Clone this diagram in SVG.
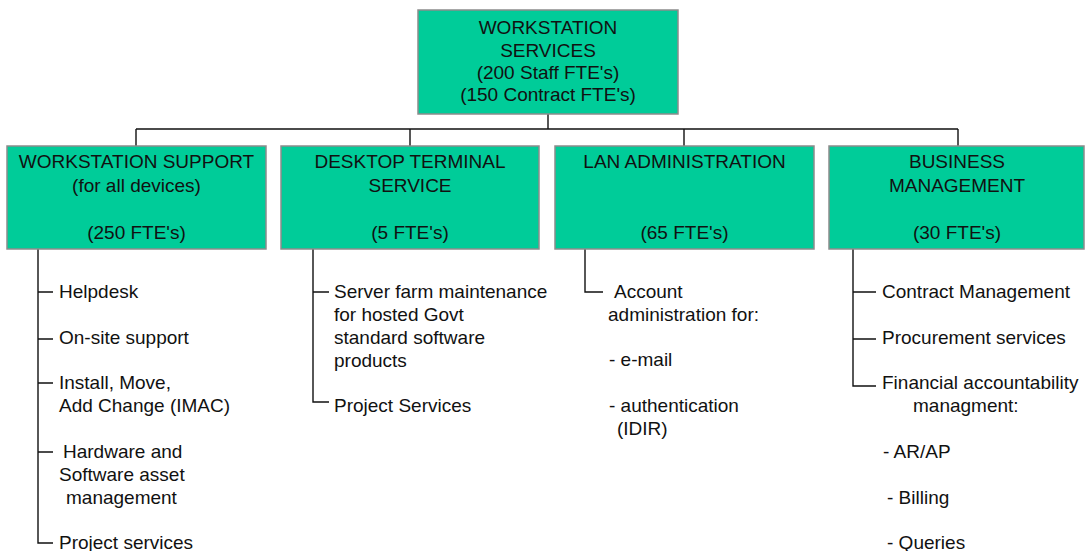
<svg xmlns="http://www.w3.org/2000/svg" width="1086" height="551" viewBox="0 0 1086 551">
<style>
.box{fill:#00CC99;stroke:#8c8c8c;stroke-width:1.5}
.t{font-family:"Liberation Sans",Arial,sans-serif;font-size:19px;fill:#111}
.c{text-anchor:middle}
.ln{fill:none;stroke:#111;stroke-width:1.4}
</style>
<rect width="1086" height="551" fill="#fff"/>
<g id="connectors" class="ln">
<path d="M548 114V129M136 129H958M136 129V146M410 129V146M684 129V146M958 129V146"/>
<path d="M38 249V543H53M38 292H53M38 339H53M38 383H53M38 452H53"/>
<path d="M313 249V402H329M313 292H329"/>
<path d="M585 249V292H603"/>
<path d="M853 249V386H876M853 292H876M853 339H876"/>
</g>
<g id="root">
<rect class="box" x="418" y="10" width="260" height="104"/>
<text class="t c" x="548" y="34">WORKSTATION</text>
<text class="t c" x="548" y="56.5">SERVICES</text>
<text class="t c" x="548" y="79">(200 Staff FTE's)</text>
<text class="t c" x="548" y="101">(150 Contract FTE's)</text>
</g>
<g id="workstation-support">
<rect class="box" x="7" y="146" width="259" height="103"/>
<text class="t c" x="136.5" y="168">WORKSTATION SUPPORT</text>
<text class="t c" x="136.5" y="191.5">(for all devices)</text>
<text class="t c" x="136.5" y="239">(250 FTE's)</text>
</g>
<g id="desktop-terminal">
<rect class="box" x="281" y="146" width="258" height="103"/>
<text class="t c" x="410" y="168">DESKTOP TERMINAL</text>
<text class="t c" x="410" y="191.5">SERVICE</text>
<text class="t c" x="410" y="239">(5 FTE's)</text>
</g>
<g id="lan-admin">
<rect class="box" x="555" y="146" width="259" height="103"/>
<text class="t c" x="684.5" y="168">LAN ADMINISTRATION</text>
<text class="t c" x="684.5" y="239">(65 FTE's)</text>
</g>
<g id="business-management">
<rect class="box" x="829" y="146" width="255" height="103"/>
<text class="t c" x="957" y="168">BUSINESS</text>
<text class="t c" x="957" y="191.5">MANAGEMENT</text>
<text class="t c" x="957" y="239">(30 FTE's)</text>
</g>
<g id="ws-items">
<text class="t" x="59" y="298">Helpdesk</text>
<text class="t" x="59" y="344">On-site support</text>
<text class="t" x="59" y="389">Install, Move,</text>
<text class="t" x="59" y="412">Add Change (IMAC)</text>
<text class="t" x="63" y="458">Hardware and</text>
<text class="t" x="59" y="481">Software asset</text>
<text class="t" x="66" y="504">management</text>
<text class="t" x="59" y="549">Project services</text>
</g>
<g id="dt-items">
<text class="t" x="334" y="298">Server farm maintenance</text>
<text class="t" x="334" y="321">for hosted Govt</text>
<text class="t" x="334" y="344">standard software</text>
<text class="t" x="334" y="367">products</text>
<text class="t" x="334" y="412">Project Services</text>
</g>
<g id="lan-items">
<text class="t" x="614" y="298">Account</text>
<text class="t" x="608" y="321">administration for:</text>
<text class="t" x="609" y="366">- e-mail</text>
<text class="t" x="609" y="412">- authentication</text>
<text class="t" x="617" y="435">(IDIR)</text>
</g>
<g id="bm-items">
<text class="t" x="882" y="298">Contract Management</text>
<text class="t" x="882" y="344">Procurement services</text>
<text class="t" x="882" y="389">Financial accountability</text>
<text class="t" x="913" y="412">managment:</text>
<text class="t" x="883" y="458">- AR/AP</text>
<text class="t" x="887" y="504">- Billing</text>
<text class="t" x="887" y="549">- Queries</text>
</g>
</svg>
